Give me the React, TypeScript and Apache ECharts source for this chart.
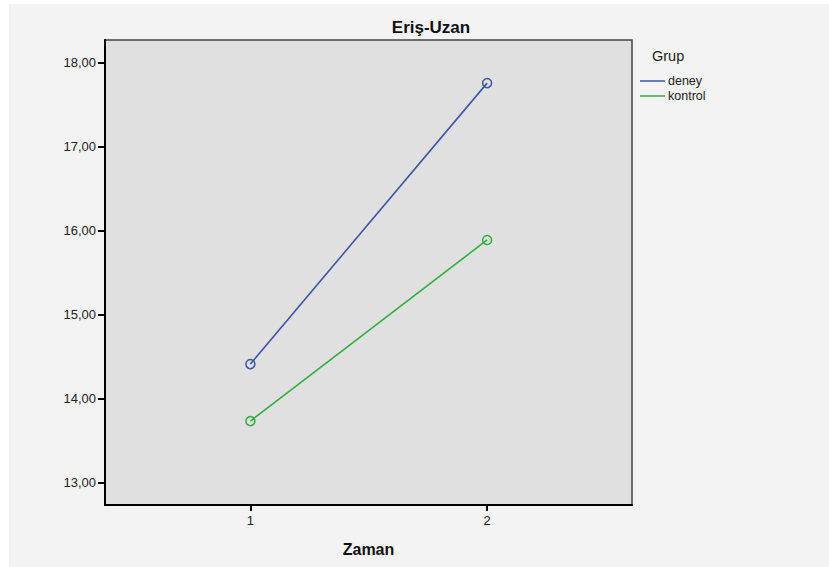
import React, { useEffect, useRef } from "react";
import * as echarts from "echarts";

const timePoints = [1, 2];
const deneyValues = [14.41, 17.76];
const kontrolValues = [13.73, 15.89];
const yTicks = [13, 14, 15, 16, 17, 18];
const seriesNames = ["deney", "kontrol"];
const seriesColors = ["#3d55ab", "#2db13c"];

export default function App() {
  const ref = useRef<HTMLDivElement>(null);
  useEffect(() => {
    if (!ref.current) return;
    const chart = echarts.init(ref.current, null, { renderer: "svg" });
    const font = "'Liberation Sans', Arial, sans-serif";
    const makeSeries = (idx: number, values: number[]) => ({
      name: seriesNames[idx],
      type: "line",
      data: timePoints.map((t, i) => [t, values[i]]),
      symbol: "circle",
      symbolSize: 9,
      lineStyle: { color: seriesColors[idx], width: 1.6 },
      itemStyle: { color: "transparent", borderColor: seriesColors[idx], borderWidth: 1.5 },
    });
    chart.setOption({
      animation: false,
      backgroundColor: "#ffffff",
      textStyle: { fontFamily: font },
      graphic: [
        {
          type: "rect",
          z: -10,
          silent: true,
          shape: { x: 9, y: 4, width: 829 - 9, height: 567 - 4 },
          style: { fill: "#f3f3f3" },
        },
        {
          type: "text",
          left: 652,
          top: 48,
          style: { text: "Grup", fontSize: 14.5, fill: "#222", fontFamily: font },
        },
      ],
      title: {
        text: "Eriş-Uzan",
        left: 426,
        top: 14,
        textAlign: "center",
        textStyle: { fontSize: 17, fontWeight: "bold", color: "#111", fontFamily: font },
      },
      legend: {
        left: 635,
        top: 69,
        orient: "vertical",
        icon: "rect",
        itemWidth: 25,
        itemHeight: 1.5,
        itemGap: 1,
        data: seriesNames.map((n, i) => ({
          name: n,
          itemStyle: { color: seriesColors[i], borderWidth: 0, borderColor: "transparent" },
        })),
        textStyle: { fontSize: 12.5, lineHeight: 14, color: "#222", padding: [0, 0, 0, -2], fontFamily: font },
      },
      grid: {
        left: 105,
        top: 40,
        width: 527,
        height: 465,
        show: true,
        backgroundColor: "#e0e0e0",
        borderColor: "#444",
        borderWidth: 1.5,
      },
      xAxis: {
        type: "value",
        min: 0.386,
        max: 2.612,
        name: "Zaman",
        nameLocation: "middle",
        nameGap: 36,
        nameTextStyle: { fontSize: 16, fontWeight: "bold", color: "#111", fontFamily: font },
        axisLine: { show: true, onZero: false, lineStyle: { color: "#000", width: 2 } },
        axisTick: { show: true, inside: false, length: 6, customValues: timePoints, lineStyle: { color: "#000", width: 2 } },
        axisLabel: { customValues: timePoints, fontSize: 13, color: "#222", margin: 9, formatter: (v: number) => String(v) },
        splitLine: { show: false },
      },
      yAxis: {
        type: "value",
        min: 12.73,
        max: 18.274,
        axisLine: { show: true, onZero: false, lineStyle: { color: "#000", width: 2 } },
        axisTick: { show: true, inside: false, length: 7, customValues: yTicks, lineStyle: { color: "#000", width: 2 } },
        axisLabel: {
          customValues: yTicks,
          fontSize: 13,
          color: "#222",
          margin: 9,
          formatter: (v: number) => v.toFixed(2).replace(".", ","),
        },
        splitLine: { show: false },
      },
      series: [makeSeries(0, deneyValues), makeSeries(1, kontrolValues)],
    });
    return () => chart.dispose();
  }, []);
  return (
    <div
      ref={ref}
      style={{ position: "fixed", left: 0, top: 0, width: 829, height: 567 }}
    />
  );
}
